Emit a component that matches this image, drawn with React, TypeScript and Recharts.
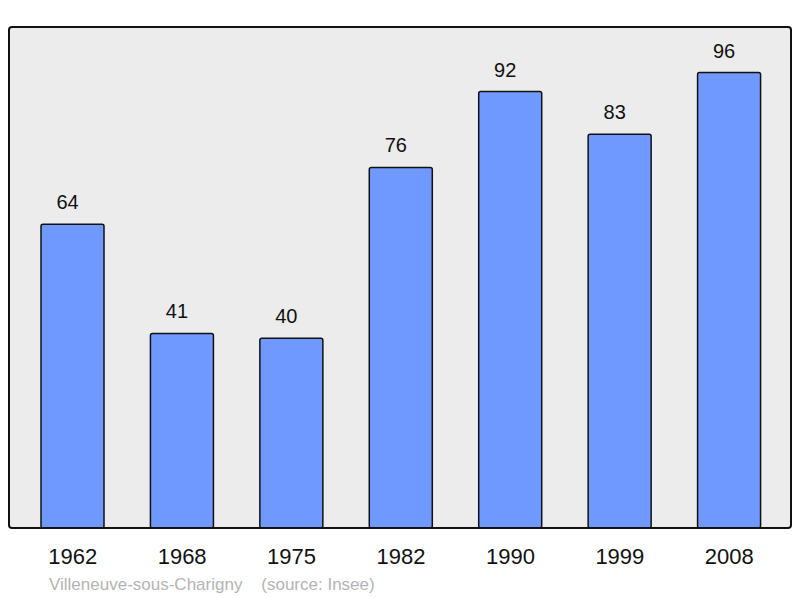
import { BarChart, Bar, XAxis, YAxis, CartesianGrid, LabelList } from 'recharts';

const years = ['1962', '1968', '1975', '1982', '1990', '1999', '2008'];
const population = [64, 41, 40, 76, 92, 83, 96];
const yMax = 105.6;

const data = years.map((year, i) => ({ year, population: population[i] }));

const FONT = '"Liberation Sans", Arial, sans-serif';

export default function App() {
  return (
    <div style={{ position: 'absolute', left: 0, top: 0, width: 800, height: 598, background: '#fff', fontFamily: FONT }}>
      <BarChart
        width={800}
        height={598}
        data={data}
        margin={{ top: 27, right: 9, bottom: 0, left: 9 }}
        barCategoryGap={0}
      >
        <CartesianGrid horizontal={false} vertical={false} fill="#ececec" />
        <XAxis
          dataKey="year"
          height={70}
          axisLine={false}
          tickLine={false}
          tickSize={0}
          tickMargin={20}
          padding={{ left: 9, right: 7 }}
          tick={{ fill: '#111', fontSize: 22, fontFamily: FONT }}
          interval={0}
        />
        <YAxis hide domain={[0, yMax]} />
        <Bar dataKey="population" fill="#7099ff" stroke="#111" strokeWidth={1.5} barSize={63} radius={2} isAnimationActive={false}>
          <LabelList dataKey="population" position="top" offset={15} dx={-5} fill="#111" fontSize={20} fontFamily={FONT} />
        </Bar>
      </BarChart>
      {/* plot frame */}
      <div style={{ position: 'absolute', left: 8, top: 26, width: 784, height: 503, boxSizing: 'border-box', border: '2px solid #111', borderRadius: 4, pointerEvents: 'none' }} />
      <div style={{ position: 'absolute', left: 49, top: 575, fontSize: 17, color: '#b4b4b4', whiteSpace: 'pre' }}>
        {'Villeneuve-sous-Charigny    (source: Insee)'}
      </div>
    </div>
  );
}
